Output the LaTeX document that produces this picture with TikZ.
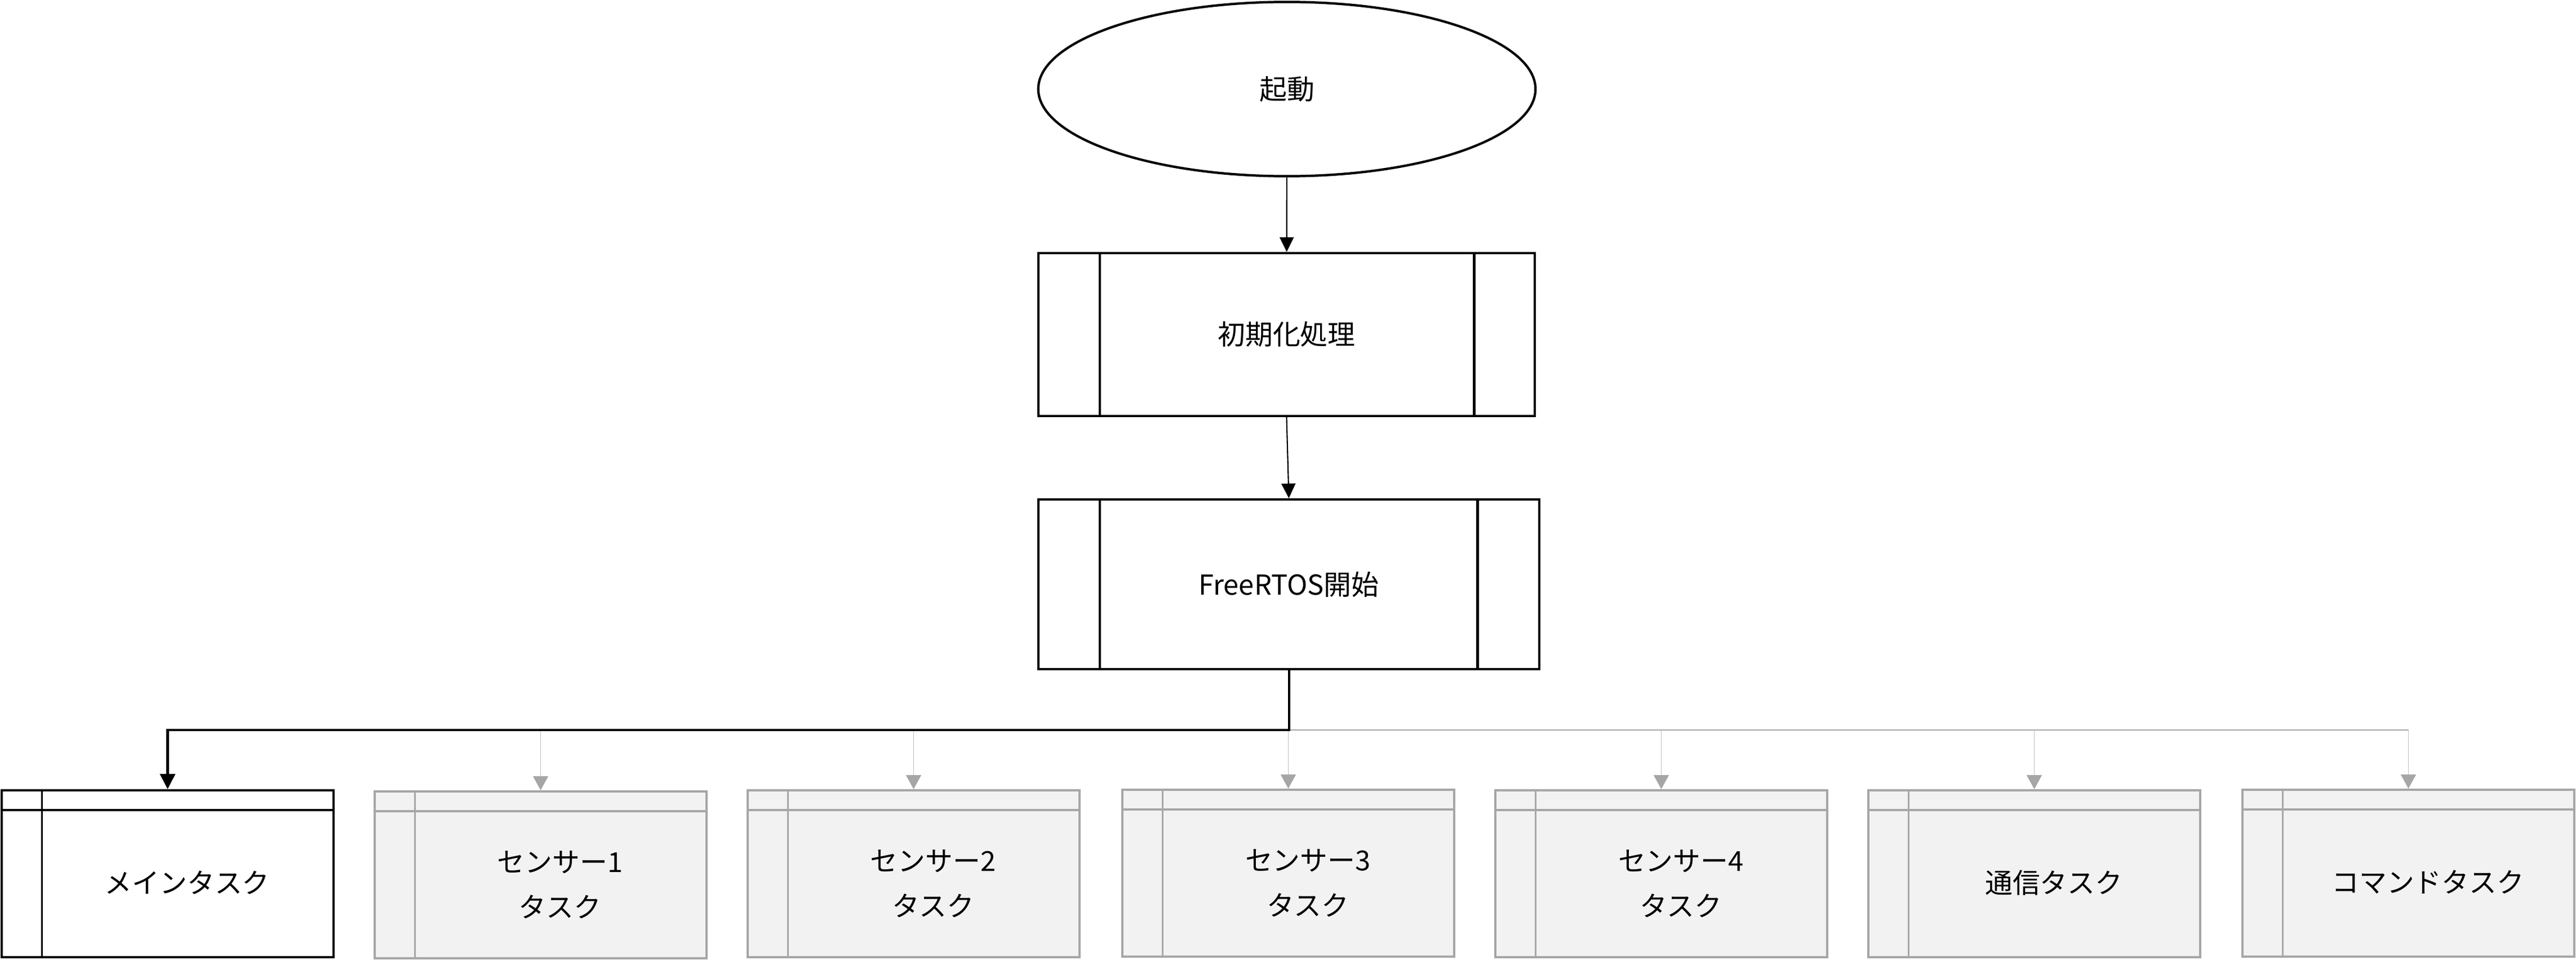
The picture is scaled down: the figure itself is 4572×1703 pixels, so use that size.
\documentclass[tikz,border=0pt]{standalone}
\usepackage{fontspec}
\newfontfamily\jp{Noto Sans CJK JP}
\usetikzlibrary{shapes.geometric,arrows.meta,calc}
\definecolor{graybd}{HTML}{A6A6A6}
\definecolor{grayfill}{HTML}{F2F2F2}
\definecolor{grayline}{HTML}{BFBFBF}
\begin{document}
\begin{tikzpicture}[x=0.01cm,y=-0.01cm,
  txt/.style={font=\jp\fontsize{13.9pt}{22.7pt}\selectfont, align=center, inner sep=0pt},
  termbox/.style={ellipse, draw, line width=1.2pt, minimum width=8.82cm, minimum height=3.09cm, inner sep=0pt, txt},
  subbox/.style={rectangle, draw, line width=1.2pt, inner sep=0pt, txt},
  taskbox/.style={rectangle, draw=graybd, fill=grayfill, line width=1.15pt, minimum width=5.89cm, minimum height=2.96cm, inner sep=0pt},
  mainbox/.style={taskbox, draw=black, fill=white, line width=1.2pt},
  arr/.style={-{Triangle[length=0.26cm,width=0.25cm]}, line width=0.6pt},
  mainarr/.style={-{Triangle[length=0.27cm,width=0.27cm]}, line width=1.15pt},
  grayarr/.style={-{Triangle[length=0.25cm,width=0.27cm,color=graybd]}, draw=grayline, line width=0.45pt},
  grayinner/.style={draw=graybd, line width=0.8pt},
  grayhead/.style={draw=graybd, line width=1.1pt}
]
\useasboundingbox (0,0) rectangle (4572,1703);

% top flow
\node[termbox] (start) at (2284,158) {起動};
\node[subbox, minimum width=8.81cm, minimum height=2.89cm] (init) at (2283.5,593.5) {初期化処理};
\node[subbox, minimum width=8.89cm, minimum height=3.01cm] (rtos) at (2287.5,1036.5) {FreeRTOS開始};
\draw[line width=1.2pt] ($(init.north west)+(111,0)$) -- ($(init.south west)+(111,0)$);
\draw[line width=1.2pt] ($(init.north east)+(-110,0)$) -- ($(init.south east)+(-110,0)$);
\draw[line width=1.2pt] ($(rtos.north west)+(111,0)$) -- ($(rtos.south west)+(111,0)$);
\draw[line width=1.2pt] ($(rtos.north east)+(-112,0)$) -- ($(rtos.south east)+(-112,0)$);

\draw[arr] (start) -- (init);
\draw[arr] (init.south) -- (rtos.north);

% task boxes
\node[mainbox] (main) at (297.5,1550) {};
\node[taskbox] (s1) at (959.5,1552) {};
\node[taskbox] (s2) at (1621.5,1550) {};
\node[taskbox] (s3) at (2286.5,1549) {};
\node[taskbox] (s4) at (2948.5,1550) {};
\node[taskbox] (comm) at (3610.5,1550) {};
\node[taskbox] (cmd) at (4274.5,1549) {};

\draw[line width=1.1pt] ($(main.north west)+(0,37)$) -- ($(main.north east)+(0,37)$);
\draw[line width=0.8pt] ($(main.north west)+(74,0)$) -- ($(main.south west)+(74,0)$);
\foreach \b in {s1,s2,s3,s4,comm,cmd}{
  \draw[grayhead] ($(\b.north west)+(0,37)$) -- ($(\b.north east)+(0,37)$);
  \draw[grayinner] ($(\b.north west)+(74,0)$) -- ($(\b.south west)+(74,0)$);
}

\node[txt] (maint) at ($(main.north west)+(331.5,166)$) {メインタスク};
\node[txt] (s1t) at ($(s1.north west)+(331.5,168)$) {センサー1\\タスク};
\node[txt] (s2t) at ($(s2.north west)+(331.5,168)$) {センサー2\\タスク};
\node[txt] (s3t) at ($(s3.north west)+(331.5,168)$) {センサー3\\タスク};
\node[txt] (s4t) at ($(s4.north west)+(331.5,168)$) {センサー4\\タスク};
\node[txt] (commt) at ($(comm.north west)+(331.5,166)$) {通信タスク};
\node[txt] (cmdt) at ($(cmd.north west)+(331.5,166)$) {コマンドタスク};

% connectors
\coordinate (bus) at (rtos.south |- 0,1295);
\draw[draw=graybd, line width=0.57pt] (bus) -- (cmd.north |- bus);
\foreach \b in {s1,s2,s3,s4,comm,cmd}{
  \draw[grayarr] (\b.north |- bus) -- (\b.north);
}
\draw[mainarr] (rtos.south) -- (bus) -| (main.north);
\end{tikzpicture}
\end{document}
